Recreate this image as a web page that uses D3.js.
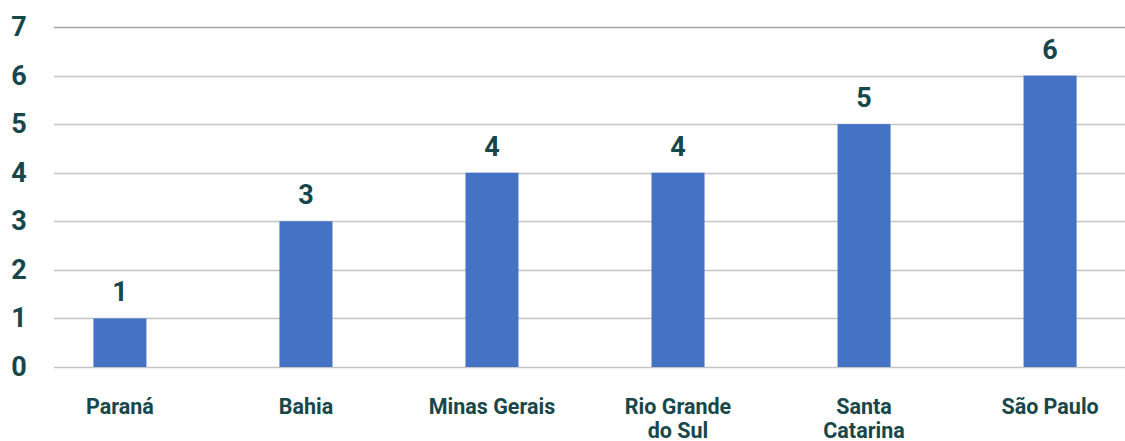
<!DOCTYPE html>
<html>
<head>
<meta charset="utf-8">
<script src="https://cdn.jsdelivr.net/npm/d3@7"></script>
<style>
  body { margin: 0; background: #fff; }
  text { font-family: Roboto, "Noto Sans", sans-serif; font-weight: bold; fill: #17474a; }
</style>
</head>
<body>
<div id="chart"></div>
<script>
const states = ['Paraná', 'Bahia', 'Minas Gerais', 'Rio Grande\ndo Sul', 'Santa\nCatarina', 'São Paulo'];
const counts = [1, 3, 4, 4, 5, 6];
const yTicks = [0, 1, 2, 3, 4, 5, 6, 7];

const W = 1125, H = 441;
const svg = d3.select("#chart").append("svg")
  .attr("width", W)
  .attr("height", H);

const x = d3.scaleBand().domain(states).range([27, 1143]).paddingInner(0.715).paddingOuter(0.357);
const y = d3.scaleLinear().domain([0, 7]).range([367, 27]);

// gridlines
svg.append("g")
  .selectAll("line")
  .data(yTicks)
  .enter()
  .append("line")
  .attr("x1", 54)
  .attr("x2", 1125)
  .attr("y1", d => Math.round(y(d)) + 0.5)
  .attr("y2", d => Math.round(y(d)) + 0.5)
  .attr("stroke", d => d === 7 ? "#a6a6a6" : "#c4c4c4")
  .attr("stroke-width", 1.5);

// y tick labels
svg.append("g")
  .selectAll("text")
  .data(yTicks)
  .enter()
  .append("text")
  .attr("x", 19)
  .attr("y", d => y(d) + 9)
  .attr("text-anchor", "middle")
  .attr("font-size", 27)
  .text(d => d);

// bars
svg.append("g")
  .selectAll("rect")
  .data(counts)
  .enter()
  .append("rect")
  .attr("x", (d, i) => x(states[i]))
  .attr("width", x.bandwidth())
  .attr("y", d => y(d))
  .attr("height", d => y(0) - y(d))
  .attr("fill", "#4472c4");

// value labels
svg.append("g")
  .selectAll("text")
  .data(counts)
  .enter()
  .append("text")
  .attr("x", (d, i) => x(states[i]) + x.bandwidth() / 2)
  .attr("y", d => y(d) - 17)
  .attr("text-anchor", "middle")
  .attr("font-size", 27)
  .text(d => d);

// category labels
const cat = svg.append("g")
  .selectAll("text")
  .data(states)
  .enter()
  .append("text")
  .attr("x", d => x(d) + x.bandwidth() / 2)
  .attr("y", 414)
  .attr("text-anchor", "middle")
  .attr("font-size", 21.5);

cat.each(function(d) {
  const t = d3.select(this);
  d.split("\n").forEach((line, i) => {
    t.append("tspan")
      .attr("x", x(d) + x.bandwidth() / 2)
      .attr("dy", i === 0 ? 0 : 24)
      .text(line);
  });
});
</script>
</body>
</html>
